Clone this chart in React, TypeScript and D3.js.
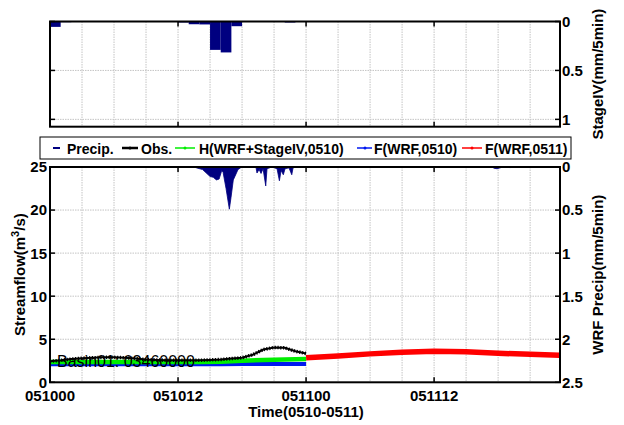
import React from 'react';
import * as d3 from 'd3';

const W = 624;
const H = 425;

// x axis (hours since 05/10 00Z)
const xTickHours = [0, 12, 24, 36];
const xTickLabels = ['051000', '051012', '051100', '051112'];
const gridHours = [3, 6, 9, 12, 15, 18, 21, 24, 27, 30, 33, 36, 39, 42, 45];

// top panel: StageIV hourly precip (mm/5min)
const stageHours = [0, 1, 12, 13, 14, 15, 16, 17, 22];
const stageValues = [0.055, 0.007, 0.01, 0.028, 0.03, 0.29, 0.316, 0.048, 0.01];
const stageTicks = [0, 0.5, 1];

// bottom panel: WRF precip (mm/5min)
const wrfHours = [12.9, 13.6, 14.3, 15.0, 15.3, 15.6, 15.85, 16.1, 16.22, 16.5, 16.81, 16.97, 17.18, 17.44, 17.62, 17.97,
  19.3, 19.4, 19.6, 19.78, 19.97, 20.22, 20.34, 20.8, 21.28, 21.5, 21.66, 21.87, 22.03, 22.4, 22.66, 22.78, 23.06,
  41.44, 41.62, 41.9, 42.19, 42.4, 43.03, 43.12, 43.2];
const wrfValues = [0, 0.005, 0.03, 0.11, 0.12, 0.15, 0.14, 0.04, 0.06, 0.25, 0.49, 0.35, 0.15, 0.08, 0.03, 0,
  0, 0.07, 0.03, 0.075, 0.02, 0.22, 0.02, 0, 0.02, 0.16, 0.04, 0.09, 0.02, 0.01, 0.09, 0.01, 0,
  0, 0.015, 0.02, 0.01, 0, 0, 0.012, 0];
const flowTicks = [0, 5, 10, 15, 20, 25];
const wrfTicks = [0, 0.5, 1, 1.5, 2, 2.5];

// streamflow (m3/s)
const obsHours = [0, 1, 2, 3, 4, 5, 6, 7, 8, 9, 10, 11, 12, 13, 14, 15, 16, 17, 18, 19, 20, 21, 22, 23, 24];
const obsValues = [2.45, 2.55, 2.7, 2.8, 2.85, 2.9, 2.9, 2.85, 2.75, 2.65, 2.6, 2.55, 2.55, 2.55, 2.55, 2.6, 2.65, 2.75, 2.85, 3.2, 3.8, 4.05, 4.0, 3.6, 3.35];
const hHours = [0, 14, 16, 18, 20, 22, 24];
const hValues = [2.35, 2.35, 2.4, 2.5, 2.6, 2.65, 2.7];
const f10Hours = [0, 16, 18, 24];
const f10Values = [2.1, 2.1, 2.13, 2.13];
const f11Hours = [24, 27, 30, 33, 36, 39, 42, 45, 47.75];
const f11Values = [2.86, 3.06, 3.3, 3.48, 3.6, 3.56, 3.37, 3.26, 3.14];

const FONT = '"Liberation Sans", Arial, Helvetica, sans-serif';

export default function App() {
  const L = 50, R = 560;
  const top1 = 21.5, bot1 = 126.7;
  const top2 = 167, bot2 = 382.3;

  const x = d3.scaleLinear().domain([0, 47.8]).range([L, R]);
  const yS = d3.scaleLinear().domain([0, 1.075]).range([top1, bot1]);
  const yF = d3.scaleLinear().domain([0, 25]).range([bot2, top2]);
  const yW = d3.scaleLinear().domain([0, 2.5]).range([top2, bot2]);

  const wrfArea = d3.area<number>()
    .x((_, i) => x(wrfHours[i]))
    .y0(top2)
    .y1((v) => yW(v))(wrfValues) || '';

  const mkLine = (hs: number[]) => d3.line<number>().x((_, i) => x(hs[i])).y((v) => yF(v));
  const obsPath = mkLine(obsHours)(obsValues) || '';
  const hPath = mkLine(hHours)(hValues) || '';
  const f10Path = mkLine(f10Hours)(f10Values) || '';
  const f11Path = mkLine(f11Hours)(f11Values) || '';

  const gridStyle = { stroke: '#c4c4c4', strokeWidth: 1, strokeDasharray: '1.5,1' };
  const vgrid = (t: number, b: number) => gridHours.map((h) => (
    <line key={'vg' + h + t} x1={x(h)} x2={x(h)} y1={t} y2={b} style={gridStyle} />
  ));

  const tickLen = 5;
  const xTicks = (t: number, b: number) => xTickHours.map((h) => (
    <g key={'xt' + h + t}>
      <line x1={x(h)} x2={x(h)} y1={b} y2={b - tickLen} stroke="#000" strokeWidth={1.5} />
      <line x1={x(h)} x2={x(h)} y1={t} y2={t + tickLen} stroke="#000" strokeWidth={1.5} />
    </g>
  ));

  const txt = { fontFamily: FONT, fontWeight: 700, fontSize: 15, fill: '#000' } as const;

  const legendY = 148;
  const lg = { fontFamily: FONT, fontWeight: 700, fontSize: 14, fill: '#000' } as const;

  return (
    <svg width={W} height={H} style={{ position: 'absolute', left: 0, top: 0, background: '#fff' }}>
      <rect x={0} y={0} width={W} height={H} fill="#fff" />
      <defs>
        <clipPath id="c1"><rect x={L} y={top1} width={R - L} height={bot1 - top1} /></clipPath>
        <clipPath id="c2"><rect x={L} y={top2} width={R - L} height={bot2 - top2} /></clipPath>
      </defs>

      {/* ---------- top panel ---------- */}
      {vgrid(top1, bot1)}
      {stageTicks.slice(1).map((v) => (
        <line key={'hg1' + v} x1={L} x2={R} y1={yS(v)} y2={yS(v)} style={gridStyle} />
      ))}
      <g clipPath="url(#c1)">
        {stageHours.map((h, i) => (
          <rect key={'sb' + i} x={x(h)} width={x(h + 1) - x(h)} y={yS(0)} height={yS(stageValues[i]) - yS(0)} fill="#000080" />
        ))}
      </g>
      <rect x={L} y={top1} width={R - L} height={bot1 - top1} fill="none" stroke="#000" strokeWidth={2} />
      {xTicks(top1, bot1)}
      {stageTicks.map((v) => (
        <g key={'st' + v}>
          <line x1={L} x2={L + tickLen} y1={yS(v)} y2={yS(v)} stroke="#000" strokeWidth={1.5} />
          <line x1={R} x2={R - tickLen} y1={yS(v)} y2={yS(v)} stroke="#000" strokeWidth={1.5} />
          <text x={R + 2} y={yS(v)} dy="0.36em" style={txt}>{String(v)}</text>
        </g>
      ))}
      <text transform={`translate(603,${(top1 + bot1) / 2}) rotate(-90)`} textAnchor="middle" style={txt}>StageIV(mm/5min)</text>

      {/* ---------- bottom panel ---------- */}
      {vgrid(top2, bot2)}
      {flowTicks.slice(1, -1).map((v) => (
        <line key={'hg2' + v} x1={L} x2={R} y1={yF(v)} y2={yF(v)} style={gridStyle} />
      ))}
      <g clipPath="url(#c2)">
        <path d={wrfArea} fill="#000080" stroke="#000080" strokeWidth={0.8} />
        <path d={f10Path} fill="none" stroke="#0018f0" strokeWidth={4} />
        <path d={hPath} fill="none" stroke="#00ee00" strokeWidth={4.5} />
        <path d={obsPath} fill="none" stroke="#000" strokeWidth={2} />
        <path d={obsPath} fill="none" stroke="#000" strokeWidth={3.5} strokeDasharray="1.2,1.6" />
        <path d={f11Path} fill="none" stroke="#ff0000" strokeWidth={5.5} />
      </g>
      <text x={57} y={367} style={{ fontFamily: FONT, fontSize: 16, fill: '#000' }}>Basin01: 03460000</text>
      <rect x={L} y={top2} width={R - L} height={bot2 - top2} fill="none" stroke="#000" strokeWidth={2} />
      {xTicks(top2, bot2)}
      {flowTicks.map((v) => (
        <g key={'ft' + v}>
          <line x1={L} x2={L + tickLen} y1={yF(v)} y2={yF(v)} stroke="#000" strokeWidth={1.5} />
          <text x={L - 3} y={yF(v)} dy="0.36em" textAnchor="end" style={txt}>{String(v)}</text>
        </g>
      ))}
      {wrfTicks.map((v) => (
        <g key={'wt' + v}>
          <line x1={R} x2={R - tickLen} y1={yW(v)} y2={yW(v)} stroke="#000" strokeWidth={1.5} />
          <text x={R + 2} y={yW(v)} dy="0.36em" style={txt}>{String(v)}</text>
        </g>
      ))}
      {xTickHours.map((h, i) => (
        <text key={'xl' + h} x={x(h)} y={401} textAnchor="middle" style={txt}>{xTickLabels[i]}</text>
      ))}
      <text x={306} y={417} textAnchor="middle" style={txt}>Time(0510-0511)</text>
      <text transform={`translate(25,${(top2 + bot2) / 2}) rotate(-90)`} textAnchor="middle" style={txt}>
        Streamflow(m<tspan dy={-6} fontSize={11}>3</tspan><tspan dy={6}>/s)</tspan>
      </text>
      <text transform={`translate(603,${(top2 + bot2) / 2}) rotate(-90)`} textAnchor="middle" style={txt}>WRF Precip(mm/5min)</text>

      {/* ---------- legend ---------- */}
      <rect x={40} y={137} width={531} height={22} fill="#fff" stroke="#000" strokeWidth={1} />
      <line x1={53} x2={60} y1={legendY} y2={legendY} stroke="#000080" strokeWidth={2} />
      <text x={67} y={154} style={lg}>Precip.</text>
      <line x1={122} x2={138} y1={legendY} y2={legendY} stroke="#000" strokeWidth={2.5} />
      <circle cx={130} cy={legendY} r={1.5} fill="#000" />
      <text x={141} y={154} style={lg}>Obs.</text>
      <line x1={175} x2={195} y1={legendY} y2={legendY} stroke="#00ee00" strokeWidth={1.5} />
      <circle cx={185} cy={legendY} r={1.5} fill="#00ee00" />
      <text x={199} y={154} style={lg}>H(WRF+StageIV,0510)</text>
      <line x1={357} x2={372} y1={legendY} y2={legendY} stroke="#0018f0" strokeWidth={1.5} />
      <circle cx={365} cy={legendY} r={1.5} fill="#0018f0" />
      <text x={374} y={154} style={lg}>F(WRF,0510)</text>
      <line x1={462} x2={482} y1={legendY} y2={legendY} stroke="#ff0000" strokeWidth={1.5} />
      <circle cx={472} cy={legendY} r={1.5} fill="#ff0000" />
      <text x={485} y={154} style={lg}>F(WRF,0511)</text>
    </svg>
  );
}
